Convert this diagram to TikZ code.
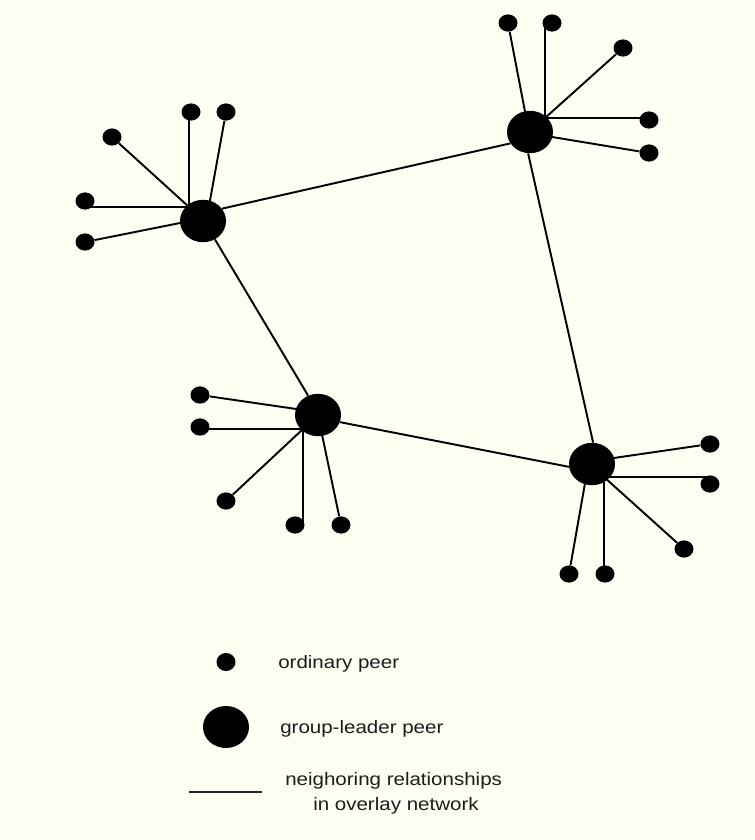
\documentclass[tikz,border=0pt]{standalone}
\usepackage{fontspec}
\usepackage{graphicx}
\setmainfont{Liberation Sans}
\usetikzlibrary{shapes.geometric,backgrounds}
\definecolor{bgcream}{RGB}{254,254,243}
\definecolor{txtcol}{RGB}{28,28,28}
\tikzset{
  peer/.style={ellipse, fill=black, minimum width=14.25pt, minimum height=12.9pt, inner sep=0pt},
  leader/.style={ellipse, fill=black, minimum width=34.5pt, minimum height=31.8pt, inner sep=0pt},
  spoke/.style={line width=1.45pt, black},
  lbl/.style={anchor=base west, inner sep=0pt, text=txtcol, font=\fontsize{13.5}{16}\selectfont}
}
\newcommand{\wide}[1]{\scalebox{1.14}[1]{#1}}
\begin{document}
\begin{tikzpicture}[x=0.75pt,y=-0.75pt]
\useasboundingbox (0,0) rectangle (755,840);
% group leaders
\node[leader] (A) at (203,221) {};
\node[leader] (B) at (530,132) {};
\node[leader] (C) at (318,415) {};
\node[leader] (D) at (592,464) {};
% ordinary peers
\node[peer] (a1) at (112,137) {};
\node[peer] (a2) at (191,112) {};
\node[peer] (a3) at (226,112) {};
\node[peer] (a4) at (85,201) {};
\node[peer] (a5) at (85,242) {};
\node[peer] (b1) at (508,23) {};
\node[peer] (b2) at (552,23) {};
\node[peer] (b3) at (623,48) {};
\node[peer] (b4) at (649,120) {};
\node[peer] (b5) at (649,153) {};
\node[peer] (c1) at (200,395) {};
\node[peer] (c2) at (200,427) {};
\node[peer] (c3) at (226,501) {};
\node[peer] (c4) at (295,525) {};
\node[peer] (c5) at (341,525) {};
\node[peer] (d1) at (710,444) {};
\node[peer] (d2) at (710,484) {};
\node[peer] (d3) at (684,549) {};
\node[peer] (d4) at (569,574) {};
\node[peer] (d5) at (605,574) {};
% hubs (inside leaders)
\coordinate (hA) at (189,207);
\coordinate (hA3) at (209,206);
\coordinate (hA5) at (195,220);
\coordinate (hB) at (545,118);
\coordinate (hB1) at (527,122);
\coordinate (hB5) at (540,135);
\coordinate (hC) at (303,429);
\coordinate (hC1) at (310,411);
\coordinate (hC5) at (320,425);
\coordinate (hD) at (604,477);
\coordinate (hD1) at (600,460);
\coordinate (hD4) at (587,472);
% legend
\node[peer, minimum height=13.5pt] (lp) at (226,662) {};
\node[leader, minimum height=31.5pt] (ll) at (226,727) {};
\coordinate (l1) at (189,792);
\coordinate (l2) at (262,792);
\node[lbl] (t1) at (278,668) {\wide{ordinary peer}};
\node[lbl] (t2) at (280,733) {\wide{group-leader peer}};
\node[lbl] (t3) at (285,785) {\wide{neighoring relationships}};
\node[lbl] (t4) at (313,810) {\wide{in overlay network}};
\begin{scope}[on background layer]
\fill[bgcream] (0,0) rectangle (755,840);
% leader links
\draw[spoke] (A.33) -- (B.210);
\draw[spoke] (A.-57) -- (C.117);
\draw[spoke] (C.-18) -- (D.187);
\draw[spoke] (B.265) -- (D.87);
% spokes A
\draw[spoke] (a1) -- (hA);
\draw[spoke] (hA |- a2) -- (hA);
\draw[spoke] (a3) -- (hA3);
\draw[spoke] (hA -| a4) -- (hA);
\draw[spoke] (a5) -- (hA5);
% spokes B
\draw[spoke] (b1) -- (hB1);
\draw[spoke] (hB |- b2) -- (hB);
\draw[spoke] (b3) -- (hB);
\draw[spoke] (hB -| b4) -- (hB);
\draw[spoke] (b5) -- (hB5);
% spokes C
\draw[spoke] (c1) -- (hC1);
\draw[spoke] (hC -| c2) -- (hC);
\draw[spoke] (c3) -- (hC);
\draw[spoke] (hC |- c4) -- (hC);
\draw[spoke] (c5) -- (hC5);
% spokes D
\draw[spoke] (d1) -- (hD1);
\draw[spoke] (hD -| d2) -- (hD);
\draw[spoke] (d3) -- (hD);
\draw[spoke] (d4) -- (hD4);
\draw[spoke] (hD |- d5) -- (hD);
% legend line
\draw[spoke, line width=1.5pt, draw=black!85] (l1) -- (l2);
\end{scope}
\end{tikzpicture}
\end{document}
